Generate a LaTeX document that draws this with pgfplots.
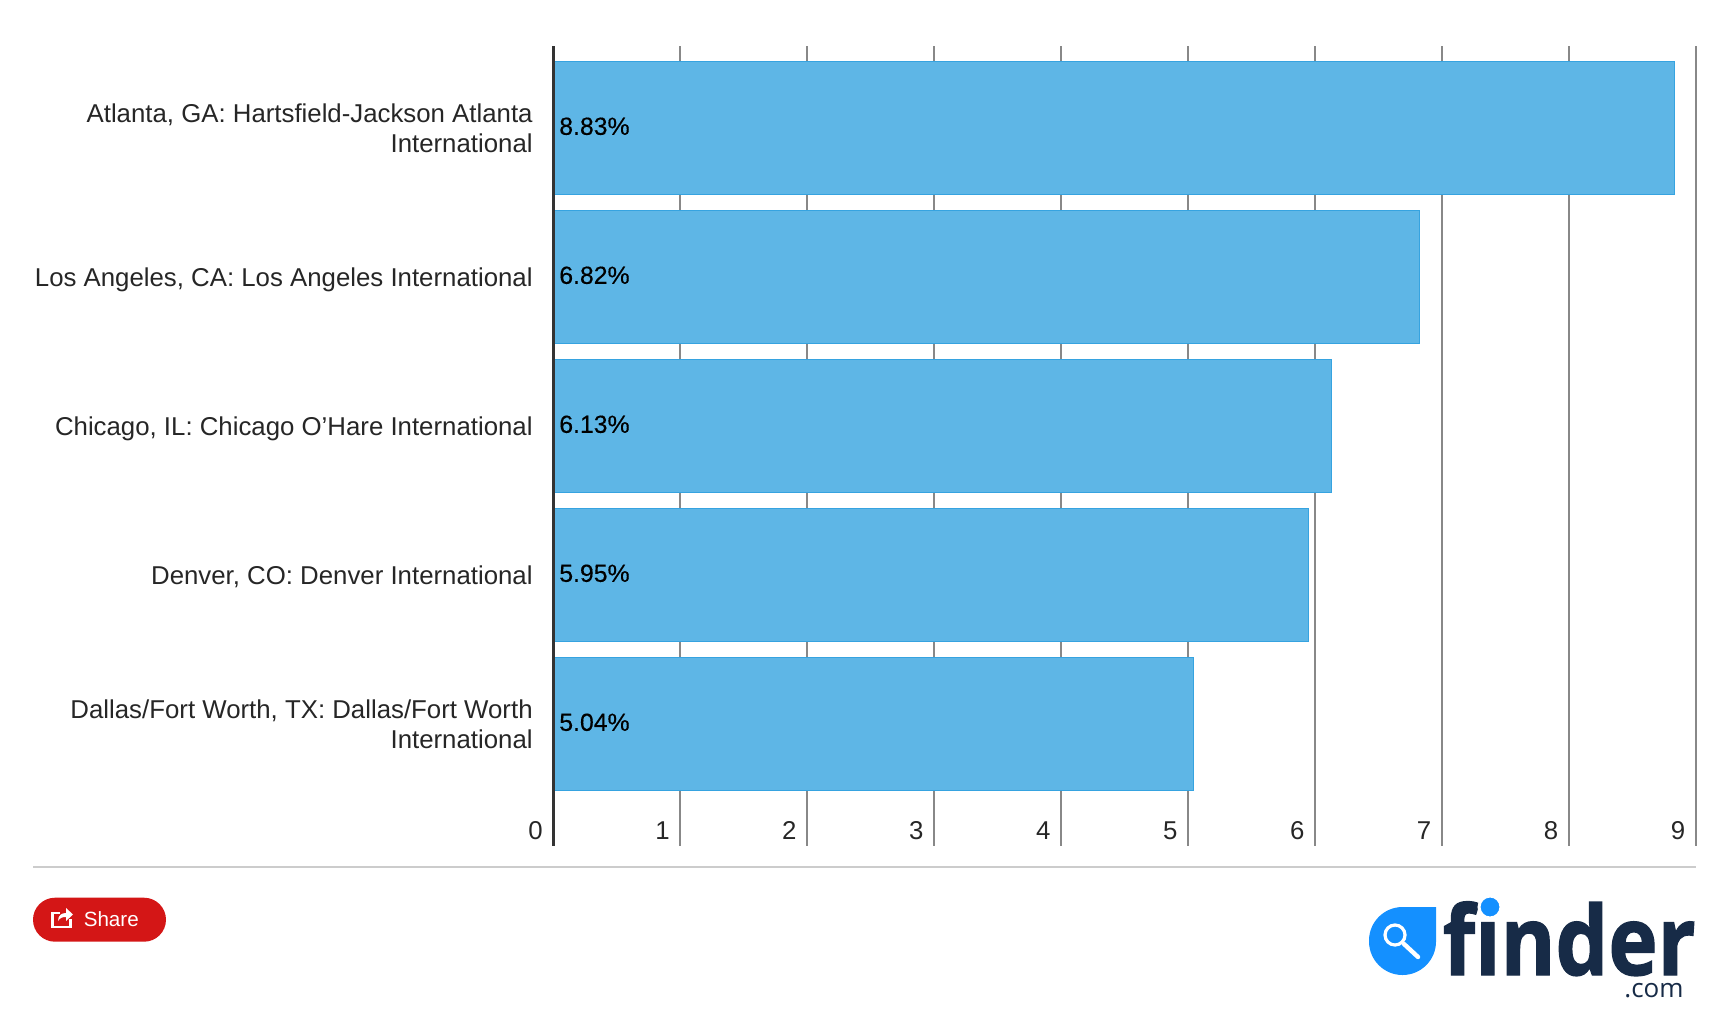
\documentclass[border=0pt]{standalone}
\usepackage{fontspec}
\setmainfont{Liberation Sans}
\newfontfamily\datafont[FakeBold=0.3]{Liberation Sans}
\newfontfamily\logofont[Ligatures=NoCommon]{Open Sans}
\newfontfamily\logoheavy[Ligatures=NoCommon,FakeBold=1.4]{Open Sans Bold}
\usepackage{pgfplots}
\usepackage{pgfplotstable}
\pgfplotsset{compat=1.18}
\definecolor{barfill}{HTML}{5EB6E6}
\definecolor{barline}{HTML}{36A3E0}
\definecolor{gridc}{HTML}{888888}
\definecolor{labelc}{HTML}{262626}
\definecolor{rulec}{HTML}{CCCCCC}
\definecolor{sharec}{HTML}{D41616}
\definecolor{logob}{HTML}{1490FF}
\definecolor{logod}{HTML}{172B47}
\pgfplotstableread{
y zero val
0 0 8.83
1 0 6.82
2 0 6.13
3 0 5.95
4 0 5.04
}\airports
\begin{document}
\begin{tikzpicture}[x=0.5pt,y=-0.5pt]
\useasboundingbox (0,0) rectangle (1732,1011);
\begin{axis}[
  at={(276.75pt,-422.85pt)}, anchor=south west,
  scale only axis, width=571.25pt, height=399.85pt,
  clip=false,
  xmin=0, xmax=9, ymin=-0.55, ymax=4.817,
  y dir=reverse,
  xtick={0,...,9}, ytick={0,...,4},
  yticklabels={{Atlanta, GA: Hartsfield-Jackson Atlanta\\International},
    {Los Angeles, CA: Los Angeles International},
    {Chicago, IL: Chicago O’Hare International},
    {Denver, CO: Denver International},
    {Dallas/Fort Worth, TX: Dallas/Fort Worth\\International}},
  major tick length=0pt,
  tick style={draw=none},
  axis line style={draw=none},
  xmajorgrids,
  grid style={draw=gridc, line width=1pt},
  /pgf/number format/assume math mode=true,
  yticklabel style={align=right, inner sep=0pt, xshift=-10.25pt, text depth=0pt,
    text=labelc, font=\fontsize{12.9}{15}\selectfont},
  xticklabel style={anchor=base east, inner sep=0pt, xshift=-5.2pt, yshift=3.35pt,
    text=labelc, font=\fontsize{12.9}{15}\selectfont},
]
\addplot[xbar, bar width=66.65pt, bar shift=0pt, fill=barfill, draw=barline, line width=0.5pt]
  table[x=val, y=y] {\airports};
\addplot[draw=none, mark=none, point meta=explicit,
  nodes near coords={\pgfmathprintnumber[fixed,fixed zerofill,precision=2,assume math mode=true]{\pgfplotspointmeta}\%},
  every node near coord/.style={anchor=west, inner sep=0pt, xshift=2.7pt, yshift=0.85pt, text=black,
    font=\datafont\fontsize{12.4}{15}\selectfont}]
  table[x=zero, y=y, meta=val] {\airports};
\draw[draw=black!80, line width=1.6pt] (rel axis cs:0,0) -- (rel axis cs:0,1);
\end{axis}
% footer rule
\draw[rulec, line width=1pt] (33,866.7) -- (1696,866.7);
% share button
\fill[sharec, rounded corners=11pt] (33,897.7) rectangle (166,941.7);
\node[anchor=base west, inner sep=0pt, text=white, font=\fontsize{10.3}{12}\selectfont] at (83.4,926.7) {Share};
\draw[white, line width=1.1pt] (60,913) -- (52.5,913) -- (52.5,927) -- (70.5,927) -- (70.5,919);
\fill[white] (58,921) .. controls (58,915) and (62,913) .. (66,913) -- (66,908) -- (73,914.5) -- (66,921) -- (66,917) .. controls (62,917) and (60,918) .. (58,921) -- cycle;
% logo
\fill[logob] (1436,907) [rounded corners=16.75pt] -- (1369,907) -- (1369,975) -- (1436,975) [sharp corners] -- cycle;
\draw[white, line width=1.6pt] (1395,935) circle[radius=10];
\draw[white, line width=2.2pt, line cap=round] (1404,944) -- (1418,957);
\node[anchor=base east, inner sep=0pt, text=logod, xscale=0.87, font=\logoheavy\fontsize{48}{50}\selectfont] at (1696,975) {finder};
\fill[logob, draw=white, line width=1.5pt] (1490,907) circle[radius=11];
\node[anchor=base east, inner sep=0pt, text=logod, font=\logofont\fontsize{13}{15}\selectfont] at (1684,997) {.com};
\end{tikzpicture}
\end{document}
